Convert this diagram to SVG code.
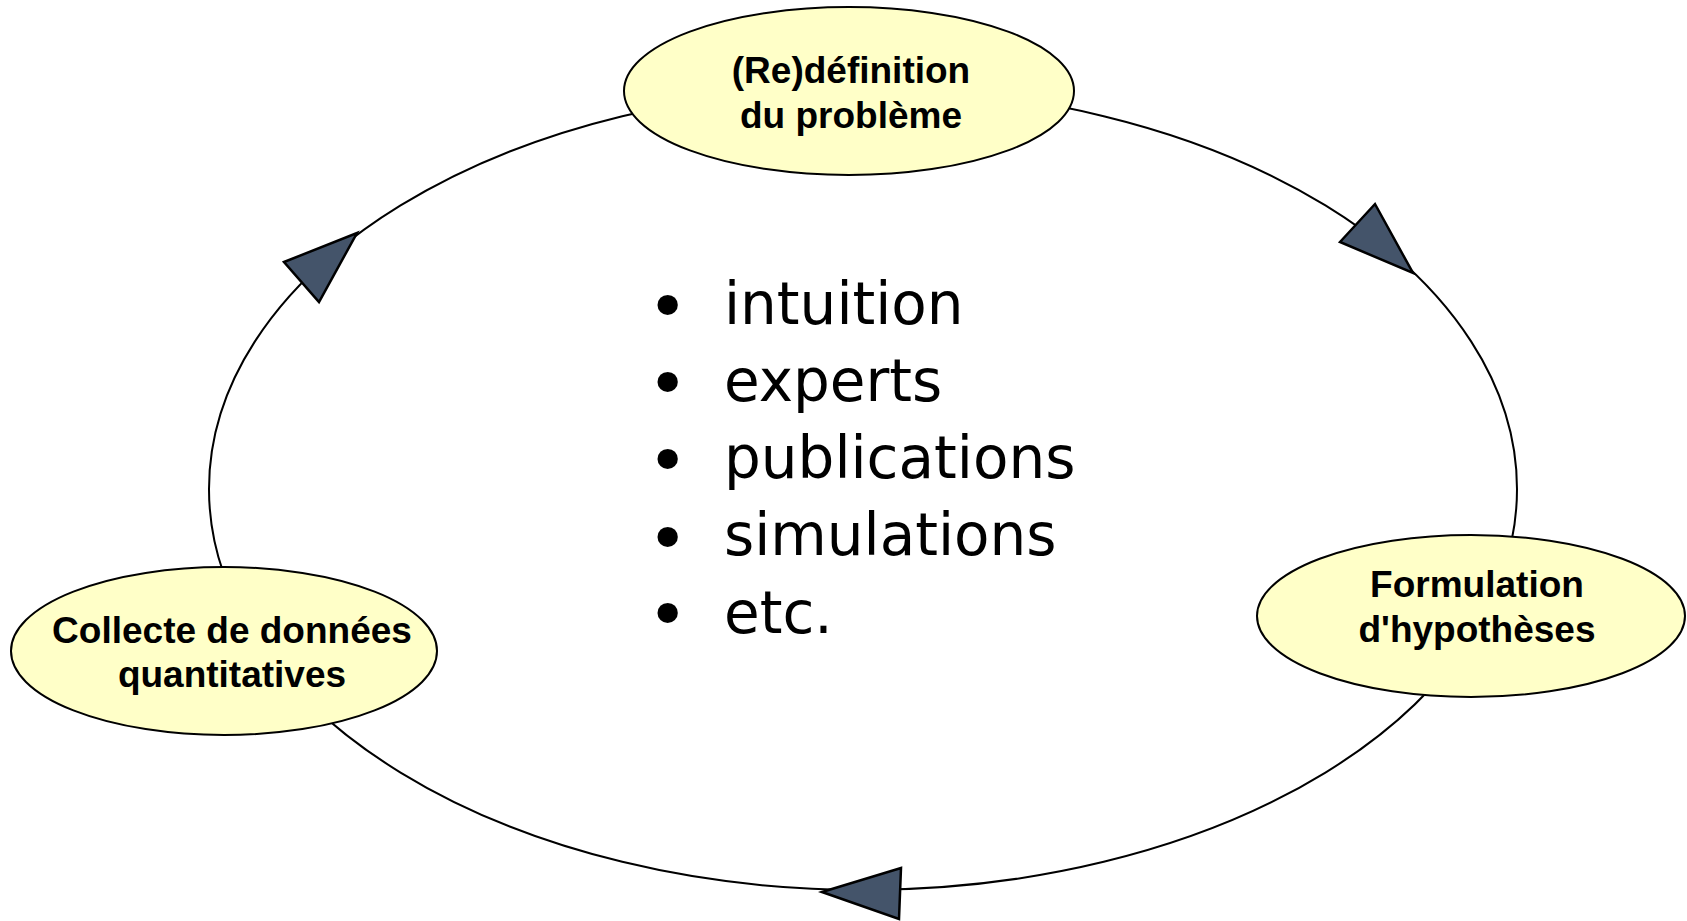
<svg xmlns="http://www.w3.org/2000/svg" width="1687" height="921" viewBox="0 0 1687 921">
<style>
.node{fill:#FFFFC8;stroke:#000;stroke-width:2}
.lbl{font-family:"Liberation Sans",Arial,sans-serif;font-weight:bold;font-size:37px;fill:#000;text-anchor:middle}
.cyc{fill:none;stroke:#000;stroke-width:2}
.arr{fill:#44546A;stroke:#000;stroke-width:2.5;stroke-linejoin:miter}
.list{font-family:"DejaVu Sans",Verdana,sans-serif;font-size:58px;fill:#000}
.bul{font-family:"DejaVu Sans",Verdana,sans-serif;font-size:70px;fill:#000}
</style>
<rect width="1687" height="921" fill="#fff"/>
<g id="connectors">
<ellipse class="cyc" cx="863" cy="489" rx="654" ry="401"/>
</g>
<g id="node-redefinition">
<ellipse class="node" cx="849" cy="91" rx="225" ry="84"/>
<text class="lbl" x="851" y="83">(Re)définition</text>
<text class="lbl" x="851" y="128">du problème</text>
</g>
<g id="node-formulation">
<ellipse class="node" cx="1471" cy="616" rx="214" ry="81"/>
<text class="lbl" x="1477" y="597">Formulation</text>
<text class="lbl" x="1477" y="642">d'hypothèses</text>
</g>
<g id="node-collecte">
<ellipse class="node" cx="224" cy="651" rx="213" ry="84"/>
<text class="lbl" x="232" y="643">Collecte de données</text>
<text class="lbl" x="232" y="687">quantitatives</text>
</g>
<g id="arrowheads">
<polygon class="arr" points="1340,242 1375,204 1413,273"/>
<polygon class="arr" points="284,262 357,233 319,302"/>
<polygon class="arr" points="822,892 901,868 899,919"/>
</g>
<g id="list">
<text class="bul" x="647" y="331">•</text>
<text class="list" x="724" y="324">intuition</text>
<text class="bul" x="647" y="408">•</text>
<text class="list" x="724" y="401">experts</text>
<text class="bul" x="647" y="485">•</text>
<text class="list" x="724" y="478">publications</text>
<text class="bul" x="647" y="563">•</text>
<text class="list" x="724" y="555">simulations</text>
<text class="bul" x="647" y="639">•</text>
<text class="list" x="724" y="633">etc.</text>
</g>
</svg>
